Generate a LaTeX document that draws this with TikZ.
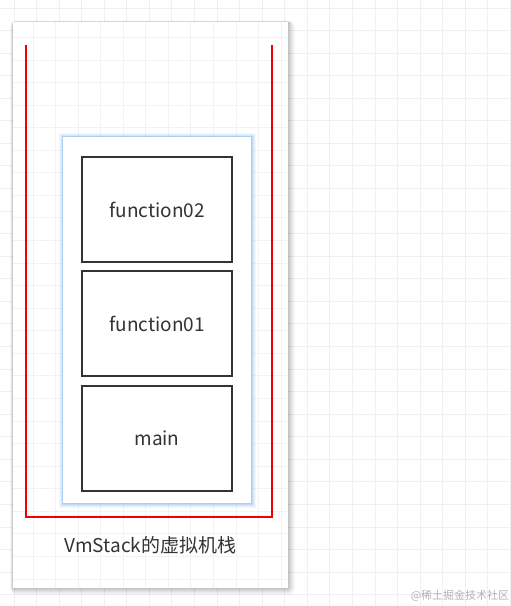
\documentclass[tikz,border=0pt]{standalone}
\usepackage{fontspec}
\setmainfont{Noto Sans CJK SC}
\definecolor{glowblue}{HTML}{9CC3F5}
\definecolor{txtgray}{HTML}{333333}
\begin{document}
\begin{tikzpicture}[x=1pt,y=-1pt,
  gridline/.style={draw=black!6,line width=1pt},
  framebox/.style={draw=txtgray,line width=2pt,fill=white,minimum width=150pt,minimum height=105pt,inner sep=0pt,font=\fontsize{19}{22}\selectfont,text=txtgray},
  redline/.style={draw=red!95!black,line width=2.2pt},
  caption/.style={font=\fontsize{19}{22}\selectfont,text=txtgray,inner sep=0pt},
  wmark/.style={font=\fontsize{11}{13}\selectfont,text=black!30,inner sep=0pt}]
\useasboundingbox (0,0) rectangle (511,606);
\fill[white] (0,0) rectangle (511,606);
% background grid
\foreach \k in {0,...,22} \draw[gridline] ({14+22.57*\k},0) -- ++(0,606);
\foreach \k in {0,...,27} \draw[gridline] (0,{8+22.57*\k}) -- ++(511,0);
% panel shadow
\foreach \d/\o in {7/0.03,5.5/0.04,4/0.05,2.5/0.06,1.2/0.07}
  \fill[black,opacity=\o,rounded corners=\d pt] ({13-\d*0.4},{22-\d*0.2}) rectangle ({288+\d},{588+\d});
% panel
\fill[white] (13,22) rectangle (288,588);
\begin{scope}
\clip (13,22) rectangle (288,588);
\foreach \k in {0,...,12} \draw[gridline,draw=black!5] ({33+22.57*\k},22) -- ++(0,566);
\foreach \k in {-2,...,24} \draw[gridline,draw=black!5] (13,{60+22.57*\k}) -- ++(275,0);
\end{scope}
% red bracket
\coordinate (rtl) at (26,45);
\coordinate (rbr) at (272,517);
\coordinate (rtr) at (272,45);
\draw[redline] (rtl) |- (rbr) -- (rtr);
% inner glowing frame
\foreach \w/\o in {9/0.1,7/0.15,5/0.22,3/0.35,1.5/0.5}
  \draw[glowblue,line width=\w pt,opacity=\o] (63,137) rectangle (251,503);
\node[fill=white,minimum width=188pt,minimum height=366pt,inner sep=0pt] (stackarea) at (157,320) {};
% frames
\node[framebox] (f2) at (157,209.5) {function02};
\node[framebox] (f1) at (157,323.5) {function01};
\node[framebox] (fm) at (157,438.5) {main};
% caption
\node[caption] (cap) at (150.5,545) {VmStack的虚拟机栈};
% watermark
\node[wmark] (wm) at (460,596) {@稀土掘金技术社区};
\end{tikzpicture}
\end{document}
